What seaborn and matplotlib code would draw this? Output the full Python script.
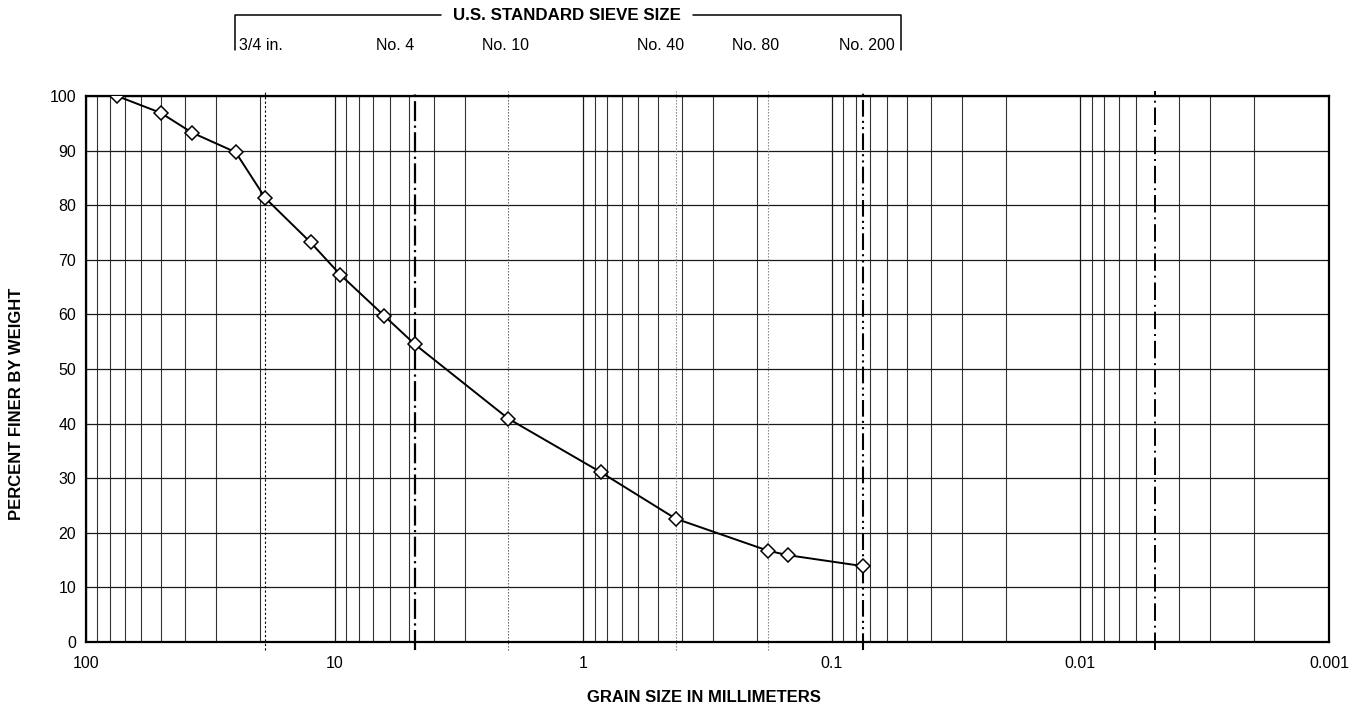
import numpy as np
import pandas as pd
import seaborn as sns
import matplotlib.pyplot as plt
from matplotlib.ticker import LogLocator, FixedLocator, NullFormatter

# grain size (mm) and percent passing
grain_mm = [75, 50, 37.5, 25, 19, 12.5, 9.5, 6.3, 4.75, 2.0, 0.85, 0.425, 0.18, 0.15, 0.075]
pct_finer = [100, 96.9, 93.3, 89.7, 81.3, 73.2, 67.3, 59.7, 54.5, 40.9, 31.1, 22.6, 16.7, 15.9, 13.9]

# boundary lines
boundary_mm = [19, 4.75, 2.0, 0.425, 0.18, 0.075, 0.005]
boundary_style = [(0, (2, 2)), (0, (9, 2, 1, 2)), (0, (1.2, 1.5)), (0, (1.2, 1.5)),
                  (0, (1.2, 1.5)), (0, (8, 2, 1, 2, 1, 2)), (0, (9, 2.5, 1, 2.5))]
boundary_lw = [0.8, 1.6, 0.8, 0.8, 0.8, 1.5, 1.4]
boundary_color = ["black", "black", "#555555", "#777777", "#777777", "black", "black"]

# sieve labels on top
sieve_labels = ["No. 4", "No. 10", "No. 40", "No. 80", "No. 200"]
sieve_label_x = [395, 506, 661, 756, 867]

df = pd.DataFrame({"size": grain_mm, "pct": pct_finer})

sns.set_style("white")
plt.rcParams["font.family"] = ["Liberation Sans", "DejaVu Sans"]
plt.rcParams.update({"text.color": "black", "axes.labelcolor": "black",
                     "xtick.color": "black", "ytick.color": "black"})

W, H = 1362, 708
fig = plt.figure(figsize=(W / 100, H / 100), dpi=100)
ax = fig.add_axes([86 / W, 1 - 642 / H, (1329 - 86) / W, (642 - 96) / H])

ax.set_xscale("log")
ax.set_xlim(100, 0.001)
ax.set_ylim(0, 100)

ax.xaxis.set_major_locator(LogLocator(base=10, numticks=10))
ax.xaxis.set_minor_locator(LogLocator(base=10, subs=np.arange(2, 10), numticks=20))
ax.xaxis.set_minor_formatter(NullFormatter())
ax.set_xticks([100, 10, 1, 0.1, 0.01, 0.001])
ax.set_xticklabels(["100", "10", "1", "0.1", "0.01", "0.001"])
ax.yaxis.set_major_locator(FixedLocator(range(0, 101, 10)))

ax.grid(True, which="major", axis="both", color="#1a1a1a", lw=0.9)
ax.grid(True, which="minor", axis="x", color="#333333", lw=0.8)
ax.set_axisbelow(True)

for x, ls, lw, c in zip(boundary_mm, boundary_style, boundary_lw, boundary_color):
    ax.plot([x, x], [-1.5, 101], color=c, lw=lw, linestyle=ls, clip_on=False, zorder=2)

sns.lineplot(data=df, x="size", y="pct", ax=ax, color="black", lw=1.4,
             marker="D", markersize=7, markerfacecolor="white",
             markeredgecolor="black", markeredgewidth=1.1, sort=False, zorder=3)

for s in ax.spines.values():
    s.set_color("black")
    s.set_linewidth(1.6)

ax.tick_params(axis="both", which="major", direction="inout", length=6, width=1,
               labelsize=11.5, colors="black", pad=4)
ax.tick_params(axis="x", which="minor", direction="inout", length=5, width=0.8)
ax.tick_params(axis="x", which="major", pad=7)
ax.set_xlabel("")
ax.set_ylabel("")

# no solid grid line where a boundary line sits on a grid position
fig.canvas.draw()
for loc, tick in zip(ax.xaxis.get_minorticklocs(), ax.xaxis.get_minor_ticks()):
    if any(abs(np.log10(loc) - np.log10(b)) < 1e-6 for b in boundary_mm):
        tick.gridline.set_visible(False)


def fx(px):
    return px / W


def fy(py):
    return 1 - py / H


fig.text(fx(704), fy(697), "GRAIN SIZE IN MILLIMETERS", ha="center", va="center",
         fontsize=12, fontweight="bold")
fig.text(fx(17), fy(404), "PERCENT FINER BY WEIGHT", ha="center", va="center",
         rotation=90, fontsize=12, fontweight="bold")

# top bracket
bx0, bx1, by_top, by_bot = 235, 901, 15, 50
fig.add_artist(plt.Line2D([fx(bx0), fx(bx0), fx(441)], [fy(by_bot), fy(by_top), fy(by_top)],
                          color="black", lw=1.1))
fig.add_artist(plt.Line2D([fx(693), fx(bx1), fx(bx1)], [fy(by_top), fy(by_top), fy(by_bot)],
                          color="black", lw=1.1))
fig.text(fx(567), fy(by_top), "U.S. STANDARD SIEVE SIZE", ha="center", va="center",
         fontsize=12.2, fontweight="bold")
fig.text(fx(239), fy(45), "3/4 in.", ha="left", va="center", fontsize=11.5)
for lab, px in zip(sieve_labels, sieve_label_x):
    fig.text(fx(px), fy(45), lab, ha="center", va="center", fontsize=11.5)

fig.savefig("out.png", dpi=100)
